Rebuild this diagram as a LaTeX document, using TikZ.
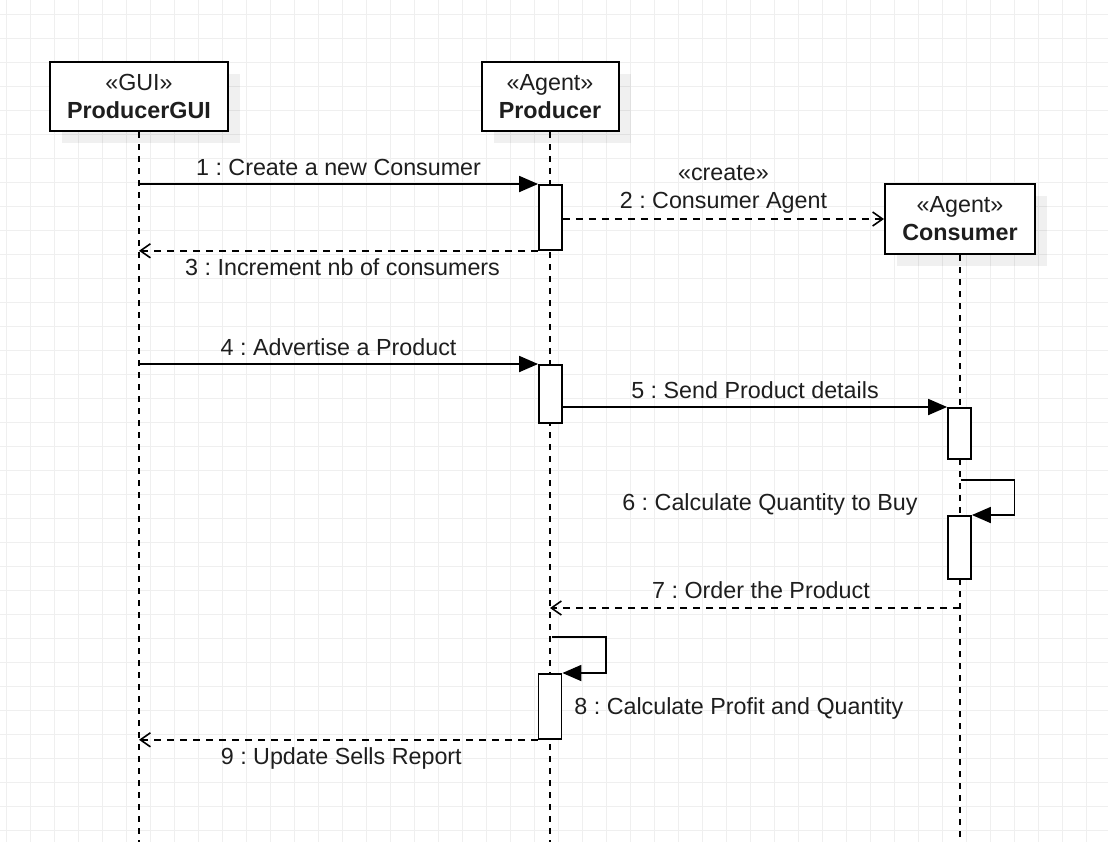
\documentclass[tikz,border=0pt]{standalone}
\usepackage{fontspec}
\setmainfont{Liberation Sans}
\frenchspacing
\usetikzlibrary{arrows.meta,positioning,calc,shadows}
\definecolor{SeqGrid}{HTML}{EFEFEF}
\definecolor{SeqText}{HTML}{1E1E1E}

\tikzset{
  lifebox/.style={draw,line width=1pt,fill=white,align=center,text=SeqText,
    minimum height=34.5pt,inner sep=0pt,
    drop shadow={shadow xshift=6pt,shadow yshift=-6pt,fill=black,opacity=.06}},
  lifeline/.style={line width=.8pt,dash pattern=on 3pt off 3pt},
  act/.style={draw,line width=.9pt,fill=white,minimum width=11.5pt,inner sep=0pt,anchor=north},
  call/.style={line width=.9pt,-{Triangle[length=9.5pt,width=8pt]}},
  reply/.style={line width=.8pt,dash pattern=on 3.5pt off 3pt,-{Straight Barb[length=5pt,width=7pt]}},
  lbl/.style={text=SeqText,anchor=base,inner sep=0pt}
}

\begin{document}
\begin{tikzpicture}[x=0.5pt,y=-0.5pt,>=Latex,font=\fontsize{11.65}{14}\selectfont]
  \useasboundingbox (0,0) rectangle (1108,842);
  \fill[white] (0,0) rectangle (1108,842);
  % background grid
  \foreach \i in {0,...,45} \draw[SeqGrid,line width=.5pt] ({6.7+24*\i},0) -- ++(0,842);
  \foreach \j in {0,...,34} \draw[SeqGrid,line width=.5pt] (0,{14.3+24*\j}) -- ++(1108,0);

  % lifeline heads
  \node[lifebox,minimum width=89pt] (gui) at (139,96.5) {«GUI»\\\textbf{ProducerGUI}};
  \node[lifebox,minimum width=68.5pt] (prod) at (550,96.5) {«Agent»\\\textbf{Producer}};
  \node[lifebox,minimum width=75pt,minimum height=35pt] (cons) at (960,219) {«Agent»\\\textbf{Consumer}};
  \coordinate (bot) at (0,842);
  \foreach \n in {gui,prod,cons}
    \draw[lifeline] (\n.south) -- (\n.south |- bot);

  % activations
  \node[act,minimum height=32.5pt] (a1) at (550.5,184) {};
  \node[act,minimum height=29pt] (a2) at (550.5,364) {};
  \node[act,minimum height=25.5pt] (a3) at (959.5,407) {};
  \node[act,minimum height=31.5pt] (a4) at (959.5,515) {};
  \node[act,minimum height=32.5pt] (a5) at (550,673) {};

  % messages
  \draw[call] (gui.south |- a1.north) -- (a1.north west)
    node[lbl,midway,yshift=4.5pt] (l1) {1 : Create a new Consumer};
  \draw[reply] (a1.east |- cons.west) -- (cons.west)
    node[lbl,midway,yshift=5.5pt] (l2) {2 : Consumer Agent}
    node[lbl,midway,yshift=19.5pt] (l2s) {«create»};
  \draw[reply] (a1.south west) -- (gui.south |- a1.south)
    node[lbl,midway,yshift=-12.5pt,xshift=2pt] (l3) {3 : Increment nb of consumers};
  \draw[call] (gui.south |- a2.north) -- (a2.north west)
    node[lbl,midway,yshift=4.5pt] (l4) {4 : Advertise a Product};
  \draw[call] (a2.east |- a3.north) -- (a3.north west)
    node[lbl,midway,yshift=4.5pt] (l5) {5 : Send Product details};
  \coordinate (s6) at (960.5,480);
  \draw[call] (s6) -- ++(54,0) |- (a4.north east);
  \node[lbl,anchor=base east] (l6) at (918,510) {6 : Calculate Quantity to Buy};
  \coordinate (m7) at (0,608);
  \draw[reply] (cons.south |- m7) -- (prod.south |- m7)
    node[lbl,midway,yshift=5pt,xshift=3pt] (l7) {7 : Order the Product};
  \coordinate (s8) at (551.5,637);
  \draw[call] (s8) -- ++(54.5,0) |- (a5.north east);
  \node[lbl,anchor=base west] (l8) at (574,714) {8 : Calculate Profit and Quantity};
  \draw[reply] (a5.south west) -- (gui.south |- a5.south)
    node[lbl,midway,yshift=-12.5pt,xshift=1.5pt] (l9) {9 : Update Sells Report};
\end{tikzpicture}
\end{document}
